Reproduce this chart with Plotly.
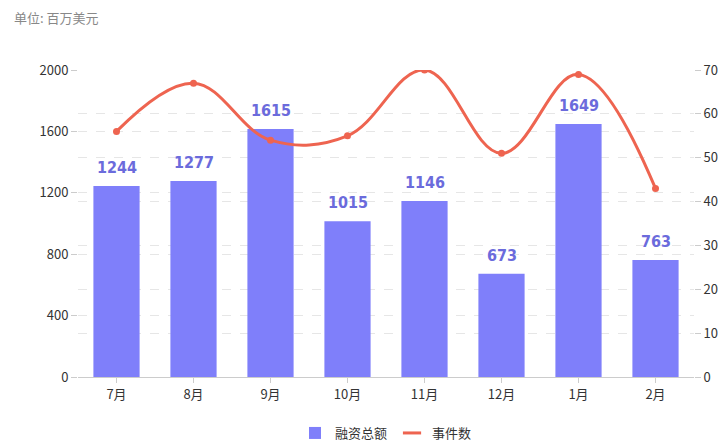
import plotly.graph_objects as go

months = ["7月", "8月", "9月", "10月", "11月", "12月", "1月", "2月"]
funding = [1244, 1277, 1615, 1015, 1146, 673, 1649, 763]
events = [56, 67, 54, 55, 70, 51, 69, 43]
left_ticks = [0, 400, 800, 1200, 1600, 2000]
right_ticks = [0, 10, 20, 30, 40, 50, 60, 70]

BAR = "#7f7ffa"
LINE = "#ee6450"

W, H = 721, 444
L, R, T, B = 78, 27, 70, 67
PH = H - T - B
PW = W - L - R

fig = go.Figure()
fig.add_trace(go.Bar(
    x=months, y=funding, name="融资总额",
    marker=dict(color=BAR, line=dict(width=0)),
))
fig.add_trace(go.Scatter(
    x=months, y=events, name="事件数", yaxis="y2", mode="lines+markers",
    line=dict(color=LINE, width=3, shape="spline", smoothing=1.1),
    marker=dict(color=LINE, size=7), showlegend=False,
))
# legend-only entry: a short horizontal dash
fig.add_trace(go.Scatter(
    x=[None], y=[None], name="事件数", yaxis="y2", mode="markers",
    marker=dict(symbol="line-ew-open", size=13, color=LINE, line=dict(color=LINE, width=3)),
))

for m, v in zip(months, funding):
    fig.add_annotation(x=m, y=v, text=str(v), showarrow=False, yanchor="bottom",
                       yshift=7, font=dict(color="#6b6bdc", size=16,
                                           family="DejaVu Sans Condensed, DejaVu Sans",
                                           weight="bold"))

fig.add_annotation(text="单位: 百万美元", xref="paper", yref="paper",
                   x=-(L - 12) / PW, y=(H - B - 18) / PH, xanchor="left", yanchor="middle",
                   showarrow=False, font=dict(size=13, color="#888"))

fig.update_layout(
    width=W, height=H,
    margin=dict(l=L, r=R, t=T, b=B, autoexpand=False),
    paper_bgcolor="white", plot_bgcolor="white",
    bargap=0.4,
    font=dict(family="Noto Sans CJK SC, Noto Sans, sans-serif", color="#333", size=13),
    showlegend=True,
    legend=dict(orientation="h", x=0.5, xanchor="center",
                y=-(433 - (H - B)) / PH, yanchor="middle",
                font=dict(size=13, color="#333"), itemwidth=30, traceorder="normal"),
    xaxis=dict(showline=True, linecolor="#ccc", linewidth=1, ticks="outside",
               tickcolor="#ccc", ticklen=5, showgrid=False, automargin=False,
               tickfont=dict(size=13, color="#333")),
    yaxis=dict(range=[0, 2000], tickvals=left_ticks, showgrid=True,
               gridcolor="#e6e6e6", griddash="dash", zeroline=False, automargin=False,
               ticks="outside", tickcolor="#ccc", ticklen=6,
               tickfont=dict(size=13, color="#333")),
    yaxis2=dict(range=[0, 70], tickvals=right_ticks, overlaying="y", side="right",
                showgrid=True, gridcolor="#e6e6e6", griddash="dash", zeroline=False,
                automargin=False, ticks="outside", tickcolor="#ccc", ticklen=6,
                tickfont=dict(size=13, color="#333")),
)
fig.write_html(
    "out.html",
    config={"displayModeBar": False},
    post_script="document.body.style.margin='0';document.documentElement.style.overflow='hidden';",
)
